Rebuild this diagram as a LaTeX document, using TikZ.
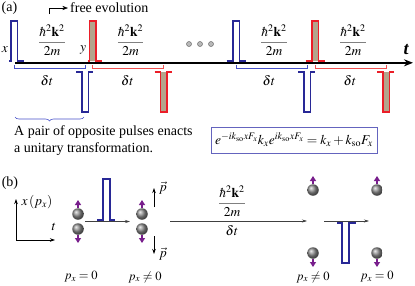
\documentclass[tikz,border=0pt]{standalone}
\usepackage{mathptmx}
\usepackage[no-math]{fontspec}
\setmainfont{Liberation Serif}
\usetikzlibrary{arrows.meta, positioning, calc, decorations.pathreplacing}

\definecolor{pulseblue}{RGB}{40,40,150}
\definecolor{pulsered}{RGB}{235,30,40}
\definecolor{pulsefill}{RGB}{180,165,140}
\definecolor{brblue}{RGB}{70,80,200}
\definecolor{brred}{RGB}{240,80,80}
\definecolor{spinpurple}{RGB}{120,30,140}
\definecolor{boxblue}{RGB}{100,100,190}

\newcommand{\kinfrac}{\color{gray}\displaystyle\frac{\color{black}\hbar^2\mathbf{k}^2}{\color{black}2m}}

\begin{document}
\begin{tikzpicture}[>=Stealth, x=1pt, y=-1pt,
    every node/.style={inner sep=0pt, font=\fontsize{13.5}{16}\selectfont},
    txt/.style={font=\fontsize{14}{17}\selectfont},
    pulseB/.style={pulseblue, line width=1.1pt},
    pulseR/.style={pulsered, line width=1.1pt, fill=pulsefill},
    bracketB/.style={brblue, line width=0.6pt},
    bracketR/.style={brred, line width=0.6pt},
    dot/.style={circle, minimum size=5pt, fill=gray!55, draw=gray!85!black, line width=0.5pt},
    ball/.style={circle, minimum size=11.5pt, ball color=black!45},
    spin/.style={spinpurple, line width=1.6pt, -{Triangle[width=6pt, length=5pt]}},
    flow/.style={black!75, line width=0.5pt, -{Stealth[length=5pt, width=3pt]}},
    mom/.style={black, line width=0.8pt, -{Stealth[length=5pt, width=3.5pt]}},
    lab/.style={font=\fontsize{12.5}{14}\selectfont}]

    \useasboundingbox (0,0) rectangle (415,285);

    % (a) time axis
    \node[txt] (atag) at (9.5,8) {(a)};
    \coordinate (t0) at (15,62.8);
    \coordinate (t1) at (413,62.8);
    \draw[line width=1.8pt, -{Stealth[length=9pt, width=7pt]}] (t0) -- (t1);
    \node (tlab) at (406,50) {\fontsize{18}{18}\selectfont\bfseries\itshape t};

    % free evolution marker
    \coordinate (fe0) at (49,14);
    \node[txt] (fetxt) [anchor=west] at (70,8) {free evolution};
    \draw[->, line width=0.6pt, shorten >=2pt] (fe0) |- (fetxt.west);

    % Pulse pairs
    \foreach \s/\bx/\rx/\tl in {1/11/89.5/2, 2/233/312/6.5} {
        % pulses above the axis
        \draw[pulseB] (\bx-\tl,61) -- (\bx,61) -- (\bx,21) -- (\bx+6.5,21) -- (\bx+6.5,61) -- (\bx+12.5,61);
        \draw[pulseR] (\rx-\tl,61) -- (\rx,61) -- (\rx,21) -- (\rx+6.5,21) -- (\rx+6.5,61) -- (\rx+12.5,61);
        % opposite pulses below the axis
        \draw[pulseB] (\bx+65,72) -- (\bx+71,72) -- (\bx+71,112) -- (\bx+77.5,112) -- (\bx+77.5,72) -- (\bx+82,72);
        \draw[pulseR] (\rx+65,72) -- (\rx+71,72) -- (\rx+71,112) -- (\rx+77.5,112) -- (\rx+77.5,72) -- (\rx+82,72);
        % delta t brackets
        \draw[bracketB] (\bx+3.25,65) |- (\bx+74.25,68) -- (\bx+74.25,65);
        \draw[bracketR] (\rx+3.25,65) |- (\rx+74.25,68) -- (\rx+74.25,65);
        % labels
        \node (fracB\s) at (\bx+41,40) {$\kinfrac$};
        \node (fracR\s) at (\rx+41,40) {$\kinfrac$};
        \node (dtB\s) at (\bx+36,81) {$\delta t$};
        \node (dtR\s) at (\rx+38,81) {$\delta t$};
    }
    \node (xlab) at (5,50) {$x$};
    \node (ylab) at (83,50) {$y$};
    \foreach \d in {189,200,211}
        \node[dot] (dot\d) at (\d,44) {};

    % brace and caption
    \coordinate (brL) at (15,117);
    \coordinate (brR) at (84,117);
    \draw[brblue, line width=0.6pt, decorate, decoration={brace, mirror, amplitude=4pt}] (brL) -- (brR);
    \node[txt] (pairtxt) [anchor=base west] at (14,135) {A pair of opposite pulses enacts};
    \node[txt] (unitxt) [anchor=base west] at (14,152.5) {a unitary transformation.};

    % transformation box
    \node (eqbox) [draw=boxblue, line width=0.6pt, minimum width=166pt, minimum height=26pt] at (294,140)
        {$e^{-ik_{\rm so}xF_x}k_xe^{ik_{\rm so}xF_x}=k_x+k_{\rm so}F_x$};

    % (b) axes
    \node[txt] (btag) at (10,183) {(b)};
    \coordinate (org) at (16,240);
    \coordinate (xax) at (55,240);
    \coordinate (yax) at (16,199);
    \draw[mom] (org) -- (yax);
    \draw[mom] (org) -- (xax);
    \node (xplab) at (37,202) {$x\,(p_x)$};
    \node (tplab) at (54,227) {$t$};

    % spin pairs
    \foreach \n/\x/\yu/\yd in {1/78/214/229, 2/142/214/229, 3/313/190/253, 4/377/190/253} {
        \node[ball] (bu\n) at (\x,\yu) {};
        \node[ball] (bd\n) at (\x,\yd) {};
        \coordinate (su\n) at (\x,\yu-14);
        \coordinate (sd\n) at (\x,\yd+14);
        \draw[spin] (bu\n) -- (su\n);
        \draw[spin] (bd\n) -- (sd\n);
    }

    % evolution arrows
    \coordinate (f1a) at (85,221.5);
    \coordinate (f1b) at (130,221.5);
    \coordinate (f2a) at (170,221);
    \coordinate (f2b) at (307,221);
    \coordinate (f3a) at (324,221);
    \coordinate (f3b) at (369,221);
    \draw[flow] (f1a) -- (f1b);
    \draw[flow] (f2a) -- (f2b);
    \draw[flow] (f3a) -- (f3b);
    \draw[pulseB] (97,220) -- (103,220) -- (103,179) -- (110,179) -- (110,220) -- (115,220);
    \draw[pulseB] (337,223) -- (342,223) -- (342,263) -- (349,263) -- (349,223) -- (356,223);
    \node (fracb) at (232,201) {$\kinfrac$};
    \node (dtb) [below=4pt of f2b -| fracb] {$\delta t$};

    % momentum kick
    \coordinate (pu0) at (154,207);
    \coordinate (pu1) at (154,188);
    \coordinate (pd0) at (154,236);
    \coordinate (pd1) at (154,254);
    \draw[mom] (pu0) -- (pu1);
    \draw[mom] (pd0) -- (pd1);
    \node (pvu) [right=5pt of pu1] {$\vec p$};
    \node (pvd) [right=5pt of pd1] {$\vec p$};

    % momentum labels
    \node[lab] (px1) at (81,277) {$p_x=0$};
    \node[lab] (px2) at (145,277) {$p_x\neq0$};
    \node[lab] (px3) at (313,277) {$p_x\neq0$};
    \node[lab] (px4) at (377,277) {$p_x=0$};
\end{tikzpicture}
\end{document}
